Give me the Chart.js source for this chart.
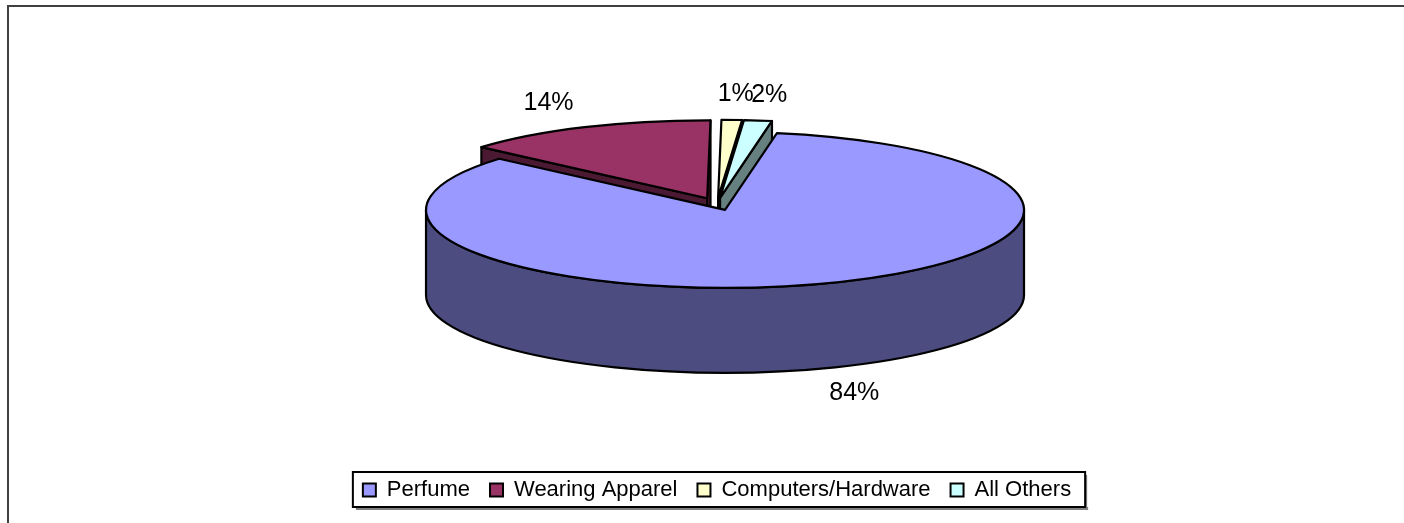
<!DOCTYPE html>
<html>
<head>
<meta charset="utf-8">
<script src="https://cdn.jsdelivr.net/npm/chart.js@4"></script>
<style>
	html, body { margin: 0; padding: 0; background: #fff; }
	#wrap { width: 1404px; height: 523px; }
</style>
</head>
<body>
<div id="wrap"><canvas id="salesPie" width="1404" height="523"></canvas></div>
<script>
const categories = ['Perfume', 'Wearing Apparel', 'Computers/Hardware', 'All Others'];
const shares = [83.6, 13.8, 1.1, 1.5];
const topColors = ['#9999FF', '#993366', '#FFFFCC', '#CCFFFF'];
const sideColors = ['#4C4C80', '#4C1933', '#808066', '#668080'];

// look of the tilted pie
const PIE_CY = 204;
const PIE_RX = 299;
const PIE_RY = 78;
const PIE_DEPTH = 85;

function pctLabel(i) {
	const total = shares.reduce((a, b) => a + b, 0);
	return Math.round((shares[i] / total) * 100) + '%';
}

const pie3d = {
	id: 'pie3d',
	beforeDraw(chart) {
		const ctx = chart.ctx;
		ctx.save();
		ctx.fillStyle = '#fff';
		ctx.fillRect(0, 0, chart.width, chart.height);
		// plot border, only top and left show in the crop
		ctx.fillStyle = '#404040';
		ctx.fillRect(7, 5, chart.width - 7, 2);
		ctx.fillRect(7, 5, 2, chart.height - 5);

		// legend frame
		const hb = chart.legend.legendHitBoxes;
		if (hb && hb.length) {
			const first = hb[0];
			const last = hb[hb.length - 1];
			const yc = first.top + first.height / 2;
			const left = first.left - 10;
			const right = last.left + last.width + 14;
			const top = yc - 18;
			const bottom = yc + 17;
			ctx.fillStyle = '#808080';
			ctx.fillRect(left + 3, bottom, right - left, 3);
			ctx.fillRect(right, top + 3, 2, bottom - top);
			ctx.strokeStyle = '#000';
			ctx.lineWidth = 2;
			ctx.strokeRect(left, top, right - left, bottom - top);
		}
		ctx.restore();
	},
	beforeDatasetsDraw(chart) {
		const ctx = chart.ctx;
		const meta = chart.getDatasetMeta(0);
		const cx = meta.data[0].x;
		const k = PIE_RY / PIE_RX;

		const mid = (a) => (a.startAngle + a.endAngle) / 2;
		// back slices first, front ones last
		const order = meta.data.map((a, i) => i).sort((i, j) => Math.sin(mid(meta.data[i])) - Math.sin(mid(meta.data[j])));

		ctx.save();
		ctx.lineWidth = 2.2;
		ctx.lineJoin = 'round';
		ctx.strokeStyle = '#000';

		order.forEach((i) => {
			const arc = meta.data[i];
			const a0 = arc.startAngle;
			const a1 = arc.endAngle;
			const m = mid(arc);
			const off = arc.options.offset || 0;
			const x = cx + Math.cos(m) * off;
			const y = PIE_CY + Math.sin(m) * off * k;

			function radial(a) {
				ctx.beginPath();
				ctx.moveTo(x, y);
				ctx.lineTo(x + PIE_RX * Math.cos(a), y + PIE_RY * Math.sin(a));
				ctx.lineTo(x + PIE_RX * Math.cos(a), y + PIE_RY * Math.sin(a) + PIE_DEPTH);
				ctx.lineTo(x, y + PIE_DEPTH);
				ctx.closePath();
				ctx.fillStyle = sideColors[i];
				ctx.fill();
				ctx.stroke();
			}

			// cut faces
			if (Math.cos(a0) < 0) radial(a0);
			if (Math.cos(a1) > 0) radial(a1);

			// outer wall, only the front half can be seen
			[[-2 * Math.PI, -Math.PI], [0, Math.PI], [2 * Math.PI, 3 * Math.PI]].forEach(([lo, hi]) => {
				const s = Math.max(a0, lo);
				const e = Math.min(a1, hi);
				if (e <= s) return;
				ctx.beginPath();
				ctx.ellipse(x, y, PIE_RX, PIE_RY, 0, s, e);
				ctx.lineTo(x + PIE_RX * Math.cos(e), y + PIE_RY * Math.sin(e) + PIE_DEPTH);
				ctx.ellipse(x, y + PIE_DEPTH, PIE_RX, PIE_RY, 0, e, s, true);
				ctx.closePath();
				ctx.fillStyle = sideColors[i];
				ctx.fill();
				ctx.stroke();
			});

			// top
			ctx.beginPath();
			ctx.moveTo(x, y);
			ctx.ellipse(x, y, PIE_RX, PIE_RY, 0, a0, a1);
			ctx.closePath();
			ctx.fillStyle = arc.options.backgroundColor;
			ctx.fill();
			ctx.stroke();
		});

		// percentage labels
		ctx.fillStyle = '#000';
		ctx.font = '25px "Liberation Sans", Arial, sans-serif';
		ctx.textAlign = 'center';
		ctx.textBaseline = 'middle';
		meta.data.forEach((arc, i) => {
			const m = mid(arc);
			const off = arc.options.offset || 0;
			const x = cx + Math.cos(m) * off;
			const y = PIE_CY + Math.sin(m) * off * k;
			const lx = x + Math.cos(m) * (PIE_RX + 88);
			const ly = y + Math.sin(m) * (PIE_RY + 26) + (Math.sin(m) > 0 ? PIE_DEPTH : 0);
			ctx.fillText(pctLabel(i), lx, ly);
		});
		ctx.restore();
		return false;
	}
};

new Chart(document.getElementById('salesPie'), {
	type: 'pie',
	data: {
		labels: categories,
		datasets: [
			{
				data: shares,
				backgroundColor: topColors,
				borderColor: '#000',
				borderWidth: 2,
				offset: 24
			}
		]
	},
	options: {
		responsive: false,
		animation: false,
		rotation: 10,
		layout: {
			padding: { left: 30, bottom: 12 }
		},
		plugins: {
			tooltip: { enabled: false },
			legend: {
				position: 'bottom',
				labels: {
					color: '#000',
					boxWidth: 13,
					boxHeight: 13,
					padding: 20,
					font: { family: '"Liberation Sans", Arial, sans-serif', size: 22 }
				}
			}
		}
	},
	plugins: [pie3d]
});
</script>
</body>
</html>
